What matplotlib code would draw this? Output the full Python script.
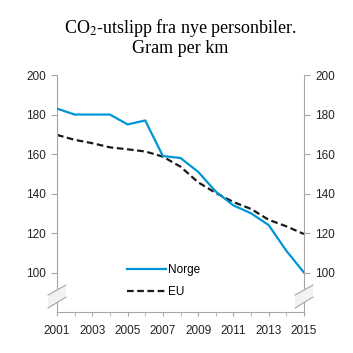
import matplotlib
matplotlib.use("Agg")
import matplotlib.pyplot as plt
from matplotlib.patches import Polygon

plt.rcParams['font.family'] = ['Liberation Sans', 'DejaVu Sans']

years = list(range(2001, 2016))
norge = [183, 180, 180, 180, 175, 177, 159, 158, 151, 141, 134, 130, 124, 111, 100]
eu = [169.7, 167.2, 165.5, 163.4, 162.4, 161.3, 158.7, 153.6, 145.7, 140.3, 135.7, 132.2, 126.7, 123.4, 119.5]
yticks = [100, 120, 140, 160, 180, 200]
xticklabels = [2001, 2003, 2005, 2007, 2009, 2011, 2013, 2015]

grey = '#a6a6a6'

fig = plt.figure(figsize=(3.53, 3.53), dpi=100)
ax = fig.add_axes([0.1615, 0.116, 0.6997, 0.6714])

ax.plot(years, norge, color='#0096d6', lw=1.6, label='Norge', zorder=3)
ax.plot(years, eu, color='#1a1a1a', lw=1.6, ls=(0, (3, 1.6)), label='EU', zorder=2)

ax.set_xlim(2001, 2015)
ax.set_ylim(80, 200)
ax.set_yticks(yticks)
ax.set_xticks(xticklabels)
ax.set_xticks(years, minor=True)

ax.spines['top'].set_visible(False)
for s in ['left', 'right', 'bottom']:
    ax.spines[s].set_color(grey)
    ax.spines[s].set_linewidth(0.8)

ax.tick_params(axis='y', which='both', direction='out', length=4, color=grey,
               labelsize=8.5, labelcolor='#222222', left=True, right=True,
               labelleft=True, labelright=True, pad=4)
ax.tick_params(axis='x', which='both', direction='out', length=3, color=grey,
               labelsize=8.5, labelcolor='#222222', pad=6)

# axis break marks on both spines
for x0 in (0.0, 1.0):
    fill = Polygon([(x0 - 0.036, 0.072), (x0 + 0.036, 0.114),
                    (x0 + 0.036, 0.063), (x0 - 0.036, 0.017)],
                   closed=True, transform=ax.transAxes, facecolor='#f2f2f2',
                   edgecolor='none', clip_on=False, zorder=4)
    ax.add_patch(fill)
    ax.plot([x0 - 0.036, x0 + 0.036], [0.072, 0.114], color=grey, lw=0.8,
            transform=ax.transAxes, clip_on=False, zorder=5)
    ax.plot([x0 - 0.036, x0 + 0.036], [0.017, 0.063], color=grey, lw=0.8,
            transform=ax.transAxes, clip_on=False, zorder=5)

ax.legend(loc='lower left', bbox_to_anchor=(0.24, 0.013), frameon=False,
          fontsize=8.5, handlelength=3.3, handletextpad=0.2, labelspacing=0.9)

fig.text(0.511, 0.895, 'CO$_2$-utslipp fra nye personbiler.\nGram per km',
         ha='center', va='center', fontsize=13, family='Liberation Serif',
         math_fontfamily='stix', linespacing=1.1)

fig.savefig('out.png', dpi=100)
